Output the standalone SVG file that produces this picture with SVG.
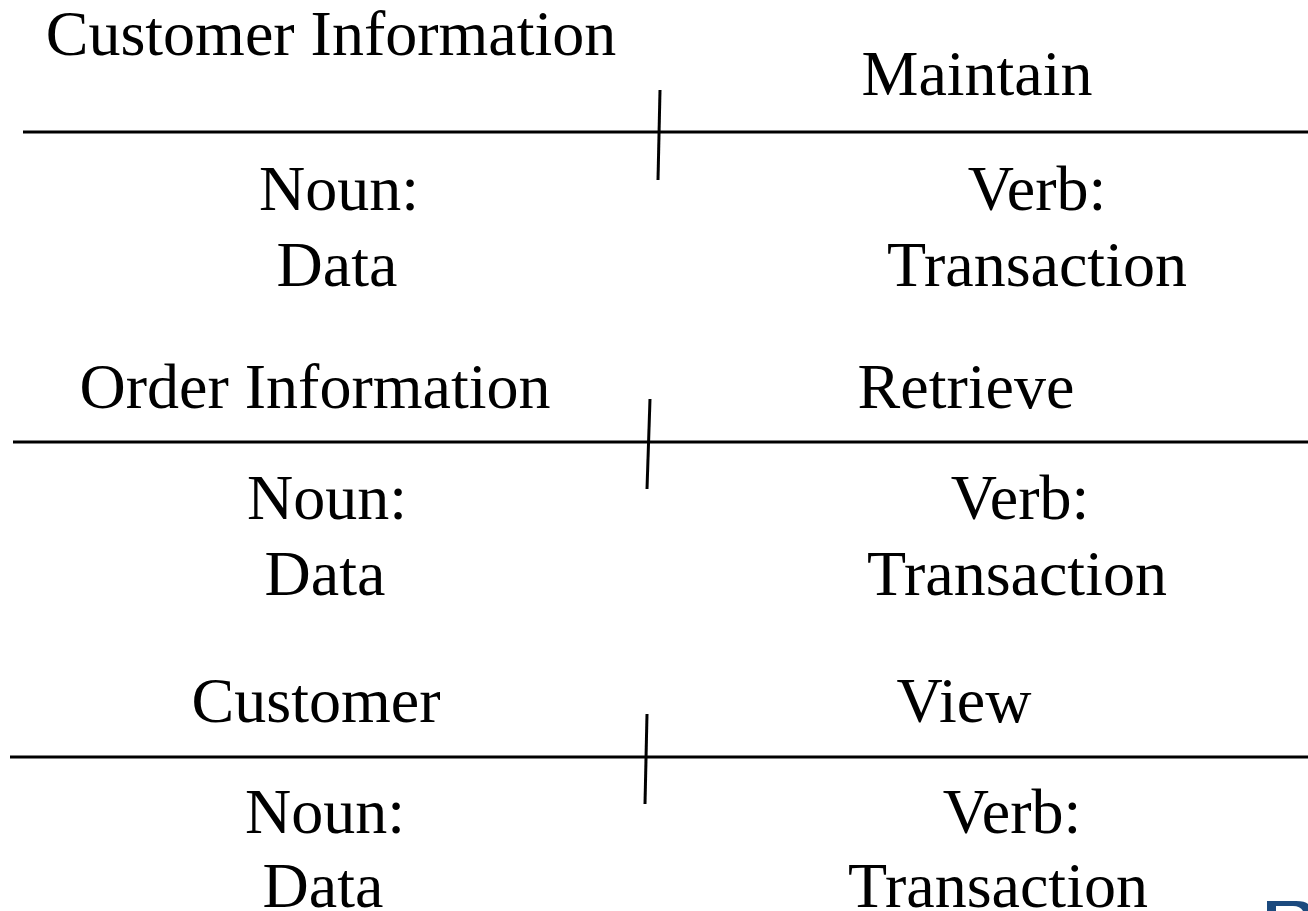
<svg xmlns="http://www.w3.org/2000/svg" width="1308" height="911" viewBox="0 0 1308 911">
  <style>
    .t { font-family: "Liberation Serif", "Times New Roman", serif; font-size: 64px; fill: #000; text-anchor: middle; }
    .rule { stroke: #000; stroke-width: 3; fill: none; }
  </style>
  <rect width="1308" height="911" fill="#fff"/>

  <g id="connectors">
    <line class="rule" x1="23" y1="132" x2="1308" y2="132"/>
    <line class="rule" x1="660" y1="90" x2="658" y2="180"/>
    <line class="rule" x1="13" y1="442" x2="1308" y2="442"/>
    <line class="rule" x1="650" y1="399" x2="647" y2="489"/>
    <line class="rule" x1="10" y1="757" x2="1308" y2="757"/>
    <line class="rule" x1="647" y1="714" x2="645" y2="804"/>
  </g>

  <g id="row1-noun">
    <text class="t" x="331" y="55">Customer Information</text>
    <text class="t" x="339" y="210">Noun:</text>
    <text class="t" x="337" y="286">Data</text>
  </g>
  <g id="row1-verb">
    <text class="t" x="977" y="95">Maintain</text>
    <text class="t" x="1037" y="210">Verb:</text>
    <text class="t" x="1037" y="286">Transaction</text>
  </g>

  <g id="row2-noun">
    <text class="t" x="315" y="408">Order Information</text>
    <text class="t" x="327" y="519">Noun:</text>
    <text class="t" x="325" y="595">Data</text>
  </g>
  <g id="row2-verb">
    <text class="t" x="966" y="408">Retrieve</text>
    <text class="t" x="1020" y="519">Verb:</text>
    <text class="t" x="1017" y="595">Transaction</text>
  </g>

  <g id="row3-noun">
    <text class="t" x="316" y="722">Customer</text>
    <text class="t" x="325" y="833">Noun:</text>
    <text class="t" x="323" y="907">Data</text>
  </g>
  <g id="row3-verb">
    <text class="t" x="964" y="722">View</text>
    <text class="t" x="1012" y="833">Verb:</text>
    <text class="t" x="998" y="907">Transaction</text>
  </g>

  <!-- corner logo fragment -->
  <g id="logo">
    <path d="M1267,901 H1296 Q1305,901 1308,904 V911 H1267 Z" fill="#1c4a7e"/>
    <path d="M1276,906 H1293 Q1300,906 1303,911 H1276 Z" fill="#fff"/>
  </g>
</svg>
